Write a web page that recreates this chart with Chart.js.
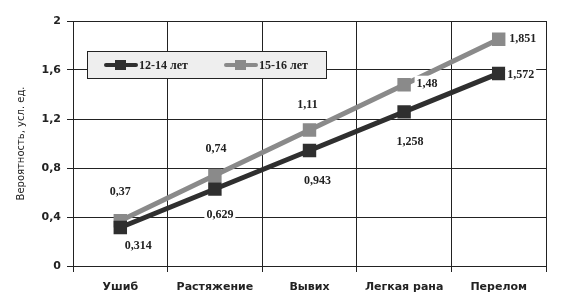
<!DOCTYPE html>
<html>
<head>
<meta charset="utf-8">
<script src="https://cdn.jsdelivr.net/npm/chart.js@4.4.0/dist/chart.umd.min.js"></script>
<style>
  body { margin: 0; background: #fff; }
  #wrap { width: 570px; height: 304px; }
</style>
</head>
<body>
<div id="wrap"><canvas id="myChart" width="570" height="304"></canvas></div>
<script>
var categories = ['Ушиб', 'Растяжение', 'Вывих', 'Легкая рана', 'Перелом'];
var young = [0.314, 0.629, 0.943, 1.258, 1.572];
var older = [0.37, 0.74, 1.11, 1.48, 1.851];
var seriesNames = ['12-14 лет', '15-16 лет'];
var yTicks = [0, 0.4, 0.8, 1.2, 1.6, 2];

// value label offsets from each point (text centre), in px
var youngLabelOff = [[18, 17], [5, 25], [8, 29], [6, 29], [22, 0]];
var olderLabelOff = [[0, -30], [1, -27], [-2, -26], [23, -2], [24, -1]];

function fmt(v) {
    return String(v).replace('.', ',');
}

var labelsPlugin = {
    id: 'valueLabels',
    afterDatasetsDraw: function(chart) {
        var ctx = chart.ctx;
        ctx.save();
        ctx.font = 'bold 12px "Liberation Serif"';
        ctx.textBaseline = 'middle';
        ctx.textAlign = 'center';
        var offSets = [youngLabelOff, olderLabelOff];
        chart.data.datasets.forEach(function(ds, di) {
            var meta = chart.getDatasetMeta(di);
            meta.data.forEach(function(pt, i) {
                var txt = fmt(ds.data[i]);
                var w = ctx.measureText(txt).width;
                var x = pt.x + offSets[di][i][0];
                var y = pt.y + offSets[di][i][1];
                ctx.fillStyle = '#fff';
                ctx.fillRect(x - w / 2 - 2, y - 7, w + 4, 14);
                ctx.fillStyle = '#222';
                ctx.fillText(txt, x, y + 1);
            });
        });
        ctx.restore();
    }
};

var legendPlugin = {
    id: 'boxLegend',
    afterDatasetsDraw: function(chart) {
        var ctx = chart.ctx;
        ctx.save();
        var bx = 87, by = 51, bw = 239, bh = 27;
        ctx.fillStyle = '#eeeeee';
        ctx.fillRect(bx, by, bw, bh);
        ctx.strokeStyle = '#222';
        ctx.lineWidth = 1;
        ctx.strokeRect(bx + 0.5, by + 0.5, bw, bh);
        var cy = by + 14;
        var items = [[106, '#2f2f2f'], [226, '#8a8a8a']];
        ctx.font = 'bold 12px "Liberation Serif"';
        ctx.textBaseline = 'middle';
        items.forEach(function(it, i) {
            ctx.strokeStyle = it[1];
            ctx.lineWidth = 4;
            ctx.lineCap = 'round';
            ctx.beginPath();
            ctx.moveTo(it[0], cy);
            ctx.lineTo(it[0] + 30, cy);
            ctx.stroke();
            ctx.fillStyle = it[1];
            ctx.fillRect(it[0] + 9, cy - 5, 11, 10);
            ctx.fillStyle = '#222';
            ctx.fillText(seriesNames[i], it[0] + 33, cy + 1);
        });
        ctx.restore();
    }
};

var ctx = document.getElementById('myChart');
var lineChart = new Chart(ctx, {
    type: 'line',
    data: {
        labels: categories,
        datasets: [
            {
                label: seriesNames[0],
                data: young,
                borderColor: '#2f2f2f',
                backgroundColor: '#2f2f2f',
                borderWidth: 5,
                pointStyle: 'rect',
                pointRadius: 9.5,
                pointBorderWidth: 0,
                tension: 0
            },
            {
                label: seriesNames[1],
                data: older,
                borderColor: '#8a8a8a',
                backgroundColor: '#8a8a8a',
                borderWidth: 5,
                pointStyle: 'rect',
                pointRadius: 9.5,
                pointBorderWidth: 0,
                tension: 0
            }
        ]
    },
    options: {
        responsive: false,
        animation: false,
        layout: { padding: { top: 21, right: 24, left: 15, bottom: 0 } },
        plugins: {
            legend: { display: false },
            tooltip: { enabled: false }
        },
        scales: {
            x: {
                offset: true,
                grid: { offset: true, color: '#222', tickLength: 6, drawTicks: true },
                border: { color: '#222', width: 1 },
                ticks: {
                    color: '#222',
                    font: { family: 'DejaVu Sans', size: 11, weight: 'bold' },
                    padding: 9
                },
                afterFit: function(scale) { scale.height = 38; }
            },
            y: {
                min: 0,
                max: 2,
                afterBuildTicks: function(scale) {
                    scale.ticks = yTicks.map(function(v) { return { value: v }; });
                },
                grid: { color: '#222', tickLength: 6 },
                border: { color: '#222', width: 1 },
                ticks: {
                    color: '#222',
                    font: { family: 'DejaVu Sans', size: 11, weight: 'bold' },
                    padding: 6,
                    callback: function(v) { return fmt(v); }
                },
                title: {
                    display: true,
                    text: 'Вероятность, усл. ед.',
                    color: '#222',
                    font: { family: 'DejaVu Sans', size: 10 },
                    padding: { top: 0, bottom: 0 }
                },
                afterFit: function(scale) { scale.width = 58; }
            }
        }
    },
    plugins: [legendPlugin, labelsPlugin]
});
</script>
</body>
</html>
